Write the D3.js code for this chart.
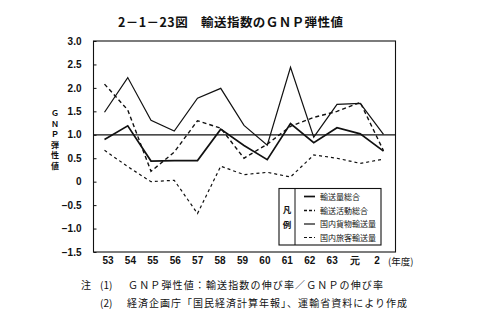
<!DOCTYPE html>
<html>
<head>
<meta charset="utf-8">
<script src="https://cdn.jsdelivr.net/npm/d3@7"></script>
<style>
  html, body { margin: 0; padding: 0; background: #fff; }
  svg { display: block; }
  text { fill: #111; }
</style>
</head>
<body>
<svg id="chart" width="490" height="328"></svg>
<script>
// Fiscal years (昭和53 … 平成2)
const years = ["53", "54", "55", "56", "57", "58", "59", "60", "61", "62", "63", "元", "2"];

// GNP elasticity of each transport index
const totalVolume   = [0.90, 1.19, 0.44, 0.45, 0.45, 1.12, 0.77, 0.47, 1.24, 0.83, 1.15, 1.02, 0.65]; // 輸送量総合
const totalActivity = [2.08, 1.53, 0.22, 0.63, 1.30, 1.14, 0.50, 0.80, 1.18, 1.37, 1.50, 1.69, 0.66]; // 輸送活動総合
const freight       = [1.48, 2.22, 1.31, 1.08, 1.78, 1.99, 1.20, 0.78, 2.44, 0.95, 1.65, 1.67, 1.01]; // 国内貨物輸送量
const passenger     = [0.67, 0.32, 0.00, 0.03, -0.68, 0.33, 0.15, 0.20, 0.10, 0.57, 0.50, 0.39, 0.48]; // 国内旅客輸送量

const yTicks = [3.0, 2.5, 2.0, 1.5, 1.0, 0.5, 0, -0.5, -1.0, -1.5];
const yTickLabels = ["3.0", "2.5", "2.0", "1.5", "1.0", "0.5", "0", "\u22120.5", "\u22121.0", "\u22121.5"];

const seriesNames = ["輸送量総合", "輸送活動総合", "国内貨物輸送量", "国内旅客輸送量"];
const seriesValues = [totalVolume, totalActivity, freight, passenger];
const seriesStyle = [
  { dash: null,  width: 1.7 },
  { dash: "4,3", width: 1.4 },
  { dash: null,  width: 1.2 },
  { dash: "3,3", width: 1.2 }
];

const svg = d3.select("#chart");
const ink = "#111";
const plot = { left: 93.5, right: 395.5, top: 41, bottom: 252 };

const x = d3.scalePoint().domain(years).range([104.5, 383.5]);
const xLabel = d3.scalePoint().domain(years).range([107.5, 376.5]);
const y = d3.scaleLinear().domain([-1.5, 3.0]).range([plot.bottom, plot.top]);

// Title
svg.append("text")
  .attr("x", 118).attr("y", 27)
  .attr("textLength", 225).attr("lengthAdjust", "spacing")
  .style("font-family", "'Noto Sans CJK JP', sans-serif")
  .style("font-size", "12.5px").style("font-weight", "bold")
  .text("2－1－23図　輸送指数のＧＮＰ弾性値");

// Plot frame
svg.append("rect")
  .attr("x", plot.left).attr("y", plot.top)
  .attr("width", plot.right - plot.left).attr("height", plot.bottom - plot.top)
  .attr("fill", "none").attr("stroke", ink).attr("stroke-width", 1.1);

// Y axis with inward ticks
const yAxis = d3.axisLeft(y)
  .tickValues(yTicks)
  .tickSize(-3)
  .tickPadding(12)
  .tickFormat((d, i) => yTickLabels[i]);
const gy = svg.append("g").attr("transform", `translate(${plot.left},0)`).call(yAxis);
gy.select(".domain").remove();
gy.selectAll(".tick line").attr("stroke", ink);
gy.selectAll(".tick text")
  .attr("fill", ink)
  .style("font-family", "'Liberation Sans', Arial, sans-serif")
  .style("font-size", "10px").style("font-weight", "bold");

// X axis labels
const xAxis = d3.axisBottom(xLabel).tickSize(0).tickPadding(5);
const gx = svg.append("g").attr("transform", `translate(0,${plot.bottom})`).call(xAxis);
gx.select(".domain").remove();
gx.selectAll(".tick text")
  .attr("fill", ink)
  .style("font-family", "'Liberation Sans', Arial, sans-serif")
  .style("font-size", "10px").style("font-weight", "bold");

svg.append("text")
  .attr("x", 388).attr("y", 264.5)
  .style("font-family", "'Noto Sans CJK JP', sans-serif")
  .style("font-size", "9.5px")
  .text("(年度)");

// Vertical axis title
const yTitle = ["Ｇ", "Ｎ", "Ｐ", "弾", "性", "値"];
svg.append("g").selectAll("text").data(yTitle).join("text")
  .attr("x", 55).attr("y", (d, i) => 116 + i * 10.5)
  .attr("text-anchor", "middle")
  .style("font-family", "'Noto Sans CJK JP', sans-serif")
  .style("font-size", "8px").style("font-weight", "bold")
  .text(d => d);

// Reference line at elasticity 1.0
svg.append("line")
  .attr("x1", plot.left).attr("x2", plot.right)
  .attr("y1", y(1)).attr("y2", y(1))
  .attr("stroke", ink).attr("stroke-width", 1.3);

// Series lines
const line = d3.line().x((d, i) => x(years[i])).y(d => y(d));
seriesValues.forEach((vals, k) => {
  svg.append("path")
    .datum(vals)
    .attr("d", line)
    .attr("fill", "none")
    .attr("stroke", ink)
    .attr("stroke-width", seriesStyle[k].width)
    .attr("stroke-dasharray", seriesStyle[k].dash)
    .attr("stroke-linejoin", "miter");
});

// Legend
const lg = { x0: 279, x1: 381, y0: 188.5, y1: 245, divider: 295 };
svg.append("rect")
  .attr("x", lg.x0).attr("y", lg.y0)
  .attr("width", lg.x1 - lg.x0).attr("height", lg.y1 - lg.y0)
  .attr("fill", "#fff").attr("stroke", ink).attr("stroke-width", 1.1);
svg.append("line")
  .attr("x1", lg.divider).attr("x2", lg.divider)
  .attr("y1", lg.y0).attr("y2", lg.y1)
  .attr("stroke", ink).attr("stroke-width", 1);
["凡", "例"].forEach((c, i) => {
  svg.append("text")
    .attr("x", 287).attr("y", 213 + i * 15)
    .attr("text-anchor", "middle")
    .style("font-family", "'Noto Sans CJK JP', sans-serif")
    .style("font-size", "8.5px").style("font-weight", "bold")
    .text(c);
});
const rowY = [196.5, 210.5, 224, 237.5];
seriesNames.forEach((name, k) => {
  svg.append("line")
    .attr("x1", 304).attr("x2", 315)
    .attr("y1", rowY[k]).attr("y2", rowY[k])
    .attr("stroke", ink)
    .attr("stroke-width", seriesStyle[k].width)
    .attr("stroke-dasharray", seriesStyle[k].dash ? "3,2" : null);
  svg.append("text")
    .attr("x", 320).attr("y", rowY[k] + 3)
    .style("font-family", "'Noto Sans CJK JP', sans-serif")
    .style("font-size", "8px")
    .text(name);
});

// Notes
const notes = [
  { mark: "注", num: "(1)", text: "ＧＮＰ弾性値：輸送指数の伸び率／ＧＮＰの伸び率", y: 289, x: 128, w: 255 },
  { mark: "",   num: "(2)", text: "経済企画庁「国民経済計算年報」、運輸省資料により作成", y: 307, x: 127, w: 280 }
];
notes.forEach(n => {
  const style = t => t.style("font-family", "'Noto Sans CJK JP', sans-serif").style("font-size", "10px");
  if (n.mark) svg.append("text").attr("x", 81).attr("y", n.y).call(style).text(n.mark);
  svg.append("text").attr("x", 100).attr("y", n.y).call(style).text(n.num);
  svg.append("text").attr("x", n.x).attr("y", n.y)
    .attr("textLength", n.w).attr("lengthAdjust", "spacing")
    .call(style).text(n.text);
});
</script>
</body>
</html>
